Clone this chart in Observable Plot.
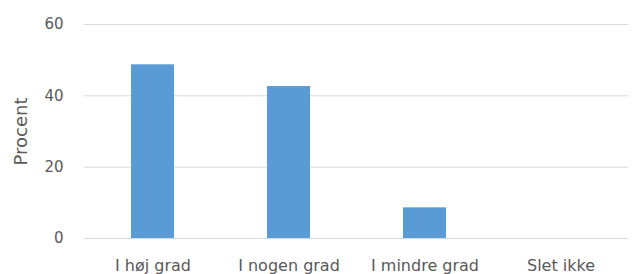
<!DOCTYPE html>
<html>
<head>
<meta charset="utf-8">
<script src="https://cdn.jsdelivr.net/npm/d3@7"></script>
<script src="https://cdn.jsdelivr.net/npm/@observablehq/plot@0.6"></script>
<style>
  html, body { margin: 0; padding: 0; background: #fff; }
  svg { display: block; }
</style>
</head>
<body>
<div id="chart"></div>
<script>
const categories = ["I høj grad", "I nogen grad", "I mindre grad", "Slet ikke"];
const values = [48.7, 42.6, 8.6, 0];
const yTicks = [0, 20, 40, 60];
const yLabel = "Procent";

const data = categories.map((c, i) => ({category: c, value: values[i]}));

const chart = Plot.plot({
  width: 635,
  height: 274,
  marginTop: 24,
  marginBottom: 36,
  marginLeft: 84,
  marginRight: 7,
  style: {fontFamily: "DejaVu Sans", fontSize: "14px", color: "#595959", background: "#fff"},
  x: {domain: categories, paddingInner: 0.685, paddingOuter: 0.3425, label: null},
  y: {domain: [0, 60], ticks: yTicks, label: null},
  marks: [
    Plot.gridY(yTicks, {stroke: "#D9D9D9", strokeOpacity: 1, strokeWidth: 1}),
    Plot.barY(data, {x: "category", y: "value", fill: "#5B9BD5"}),
    Plot.axisY(yTicks, {tickSize: 0, tickPadding: 21, fill: "#595959", fontSize: 15, letterSpacing: 1, label: null}),
    Plot.axisX({tickSize: 0, tickPadding: 21, fill: "#595959", fontSize: 16, letterSpacing: 0.2, label: null}),
    Plot.text([yLabel], {frameAnchor: "left", textAnchor: "middle", lineAnchor: "middle", dx: -63.5, rotate: -90, fill: "#595959", fontSize: 18, letterSpacing: 1})
  ]
});
document.getElementById("chart").appendChild(chart);
</script>
</body>
</html>
